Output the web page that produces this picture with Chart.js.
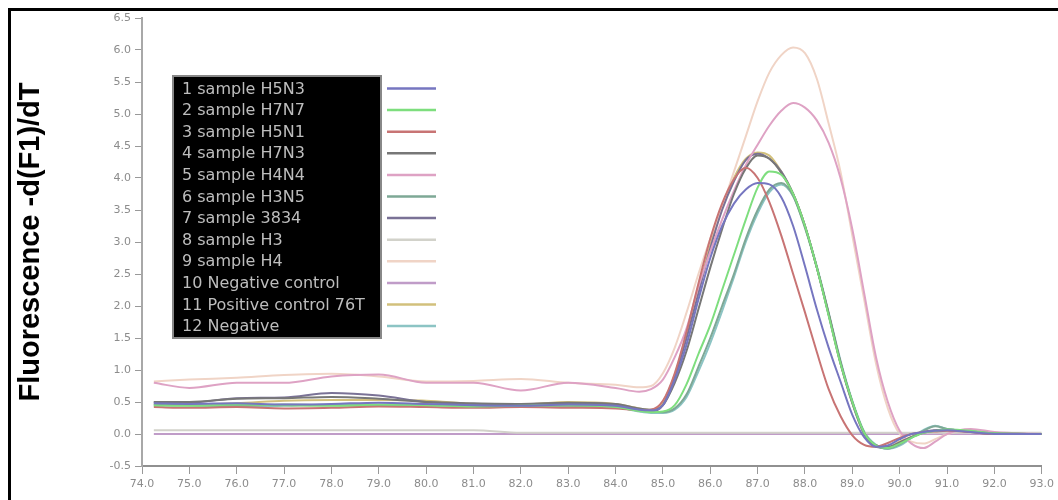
<!DOCTYPE html>
<html>
<head>
<meta charset="utf-8">
<script src="https://cdn.jsdelivr.net/npm/chart.js@4"></script>
<style>
  html, body { margin: 0; padding: 0; background: #fff; }
</style>
</head>
<body>
<canvas id="meltChart" width="1058" height="500"></canvas>
<script>
// Melting curve data - temperature grid and -d(F1)/dT per sample

var temps = [74.25, 75, 76, 77, 78, 79, 80, 81, 82, 83, 84, 84.5, 84.75,
  85, 85.25, 85.5, 85.75, 86, 86.25, 86.5, 86.75, 87, 87.25, 87.5, 87.75,
  88, 88.25, 88.5, 88.75, 89, 89.25, 89.5, 89.75, 90, 90.25, 90.5, 90.75,
  91, 91.5, 92, 93];

var labels = ['1 sample H5N3', '2 sample H7N7', '3 sample H5N1', '4 sample H7N3',
  '5 sample H4N4', '6 sample H3N5', '7 sample 3834', '8 sample H3', '9 sample H4',
  '10 Negative control', '11 Positive control 76T', '12 Negative'];

var colors = ['#7676c0', '#7ede7e', '#c87474', '#777777', '#dea2c4', '#7ea896',
  '#7a7296', '#d2d2ca', '#f0d4c6', '#c09cc8', '#d2c07c', '#8cc4c4'];

var h5n3 = [0.48, 0.47, 0.48, 0.46, 0.47, 0.49, 0.47, 0.45, 0.44, 0.46, 0.44, 0.38, 0.37,
  0.45, 0.85, 1.4, 2.1, 2.75, 3.25, 3.6, 3.82, 3.92, 3.9, 3.7, 3.25,
  2.62, 1.95, 1.35, 0.82, 0.3, -0.05, -0.2, -0.18, -0.08, 0.0, 0.03, 0.05,
  0.06, 0.03, 0.0, 0.0];
var h7n7 = [0.45, 0.44, 0.46, 0.45, 0.44, 0.46, 0.45, 0.43, 0.44, 0.45, 0.42, 0.36, 0.34,
  0.35, 0.45, 0.78, 1.25, 1.7, 2.25, 2.8, 3.35, 3.85, 4.1, 4.05, 3.75,
  3.25, 2.6, 1.85, 1.1, 0.5, 0.02, -0.18, -0.22, -0.15, -0.06, 0.02, 0.05,
  0.07, 0.05, 0.01, 0.0];
var h5n1 = [0.42, 0.41, 0.42, 0.40, 0.41, 0.43, 0.42, 0.41, 0.42, 0.41, 0.40, 0.37, 0.38,
  0.52, 0.95, 1.6, 2.35, 3.05, 3.6, 3.98, 4.16, 4.0, 3.62, 3.1, 2.5,
  1.9, 1.28, 0.7, 0.28, -0.02, -0.17, -0.2, -0.14, -0.06, 0.0, 0.03, 0.04,
  0.05, 0.03, 0.0, 0.0];
var h7n3 = [0.5, 0.5, 0.55, 0.56, 0.58, 0.55, 0.5, 0.48, 0.47, 0.49, 0.47, 0.4, 0.38,
  0.45, 0.8, 1.3, 1.95, 2.6, 3.2, 3.75, 4.15, 4.35, 4.3, 4.08, 3.75,
  3.25, 2.6, 1.88, 1.12, 0.5, 0.02, -0.18, -0.2, -0.13, -0.05, 0.02, 0.05,
  0.06, 0.04, 0.01, 0.0];
var h4n4 = [0.8, 0.72, 0.8, 0.8, 0.9, 0.93, 0.8, 0.8, 0.68, 0.8, 0.72, 0.66, 0.7,
  0.85, 1.2, 1.65, 2.3, 2.85, 3.35, 3.8, 4.2, 4.52, 4.82, 5.05, 5.17,
  5.1, 4.9, 4.55, 4.0, 3.2, 2.2, 1.2, 0.5, 0.05, -0.15, -0.22, -0.12,
  0.0, 0.08, 0.03, 0.0];
var h3n5 = [0.46, 0.45, 0.44, 0.46, 0.45, 0.44, 0.46, 0.44, 0.45, 0.44, 0.43, 0.37, 0.35,
  0.34, 0.4, 0.62, 1.05, 1.5, 2.0, 2.5, 3.05, 3.5, 3.82, 3.92, 3.72,
  3.22, 2.6, 1.88, 1.12, 0.5, 0.02, -0.18, -0.23, -0.16, -0.05, 0.05, 0.12,
  0.08, 0.04, 0.01, 0.0];
var s3834 = [0.5, 0.49, 0.56, 0.57, 0.64, 0.6, 0.5, 0.47, 0.46, 0.48, 0.46, 0.38, 0.36,
  0.45, 0.9, 1.5, 2.2, 2.9, 3.5, 3.95, 4.28, 4.38, 4.3, 4.1, 3.75,
  3.25, 2.6, 1.86, 1.1, 0.48, 0.0, -0.2, -0.22, -0.14, -0.05, 0.03, 0.06,
  0.07, 0.03, 0.0, 0.0];
var h3 = [0.06, 0.06, 0.06, 0.06, 0.06, 0.06, 0.06, 0.06, 0.02, 0.02, 0.02, 0.02, 0.02,
  0.02, 0.02, 0.02, 0.02, 0.02, 0.02, 0.02, 0.02, 0.02, 0.02, 0.02, 0.02,
  0.02, 0.02, 0.02, 0.02, 0.02, 0.02, 0.02, 0.02, 0.02, 0.02, 0.02, 0.02,
  0.02, 0.02, 0.02, 0.02];
var h4 = [0.82, 0.85, 0.88, 0.92, 0.94, 0.9, 0.82, 0.83, 0.86, 0.8, 0.77, 0.73, 0.75,
  0.95, 1.35, 1.9, 2.5, 3.05, 3.55, 4.1, 4.65, 5.2, 5.65, 5.92, 6.04,
  5.95, 5.55, 4.85, 4.1, 3.1, 2.1, 1.1, 0.4, 0.0, -0.12, -0.15, -0.08,
  0.0, 0.05, 0.02, 0.0];
var negControl = [0, 0, 0, 0, 0, 0, 0, 0, 0, 0, 0, 0, 0,
  0, 0, 0, 0, 0, 0, 0, 0, 0, 0, 0, 0,
  0, 0, 0, 0, 0, 0, 0, 0, 0, 0, 0, 0,
  0, 0, 0, 0];
var posControl = [0.47, 0.46, 0.48, 0.52, 0.53, 0.53, 0.52, 0.47, 0.46, 0.5, 0.47, 0.4, 0.38,
  0.5, 0.92, 1.55, 2.25, 2.95, 3.55, 4.0, 4.3, 4.4, 4.35, 4.1, 3.75,
  3.25, 2.6, 1.87, 1.1, 0.48, 0.0, -0.18, -0.2, -0.12, -0.04, 0.03, 0.05,
  0.06, 0.03, 0.0, 0.0];
var negative = [0.44, 0.45, 0.43, 0.44, 0.46, 0.45, 0.44, 0.45, 0.43, 0.44, 0.42, 0.35, 0.33,
  0.33, 0.38, 0.58, 0.98, 1.42, 1.92, 2.45, 3.0, 3.45, 3.78, 3.9, 3.72,
  3.24, 2.62, 1.9, 1.15, 0.52, 0.04, -0.17, -0.23, -0.18, -0.06, 0.06, 0.13,
  0.08, 0.04, 0.01, 0.0];

var series = [h5n3, h7n7, h5n1, h7n3, h4n4, h3n5, s3834, h3, h4, negControl, posControl, negative];

var datasets = series.map(function(vals, i) {
  return {
    label: labels[i],
    data: vals.map(function(v, j) { return {x: temps[j], y: v}; }),
    borderColor: colors[i],
    backgroundColor: colors[i],
    borderWidth: 2,
    pointRadius: 0,
    fill: false,
    cubicInterpolationMode: 'monotone'
  };
});

// black frame + black legend box, drawn by hand like the original software
var meltLegend = {
  id: 'meltLegend',
  beforeDraw: function(chart) {
    var c = chart.ctx;
    c.save();
    c.fillStyle = '#000';
    c.fillRect(8, 8, 1050, 3);
    c.fillRect(8, 8, 3, 492);
    c.restore();
  },
  afterDraw: function(chart) {
    var c = chart.ctx;
    c.save();
    c.fillStyle = '#000';
    c.fillRect(173, 76, 208, 262);
    c.strokeStyle = '#888';
    c.lineWidth = 2;
    c.strokeRect(173, 76, 208, 262);
    c.font = '16px "DejaVu Sans"';
    c.fillStyle = '#bdbdbd';
    c.textBaseline = 'middle';
    for (var i = 0; i < labels.length; i++) {
      var y = 88.5 + i * 21.6;
      c.fillText(labels[i], 182, y + 1);
      c.strokeStyle = colors[i];
      c.lineWidth = 2.5;
      c.beginPath();
      c.moveTo(387, y);
      c.lineTo(436, y);
      c.stroke();
    }
    c.restore();
  }
};

var ctx = document.getElementById('meltChart');

var meltChart = new Chart(ctx, {
  type: 'line',
  data: { datasets: datasets },
  plugins: [meltLegend],
  options: {
    responsive: false,
    animation: false,
    layout: { padding: { top: 18, right: 13, left: 0, bottom: 0 } },
    plugins: {
      legend: { display: false },
      tooltip: { enabled: false }
    },
    scales: {
      x: {
        type: 'linear',
        min: 74,
        max: 93,
        afterFit: function(s) { s.height = 34; },
        border: { display: true, color: '#909090', width: 2 },
        grid: { drawOnChartArea: false, color: '#999', tickLength: 8 },
        ticks: {
          stepSize: 1,
          autoSkip: false,
          maxRotation: 0,
          padding: 4,
          color: '#8c8c8c',
          font: { family: 'DejaVu Sans', size: 11 },
          callback: function(v) { return v.toFixed(1); }
        }
      },
      y: {
        min: -0.5,
        max: 6.5,
        afterFit: function(s) { s.width = 142; },
        border: { display: true, color: '#a8a8a8', width: 2 },
        grid: { drawOnChartArea: false, color: '#999', tickLength: 7 },
        ticks: {
          stepSize: 0.5,
          padding: 4,
          color: '#8c8c8c',
          font: { family: 'DejaVu Sans', size: 11 },
          callback: function(v) { return v.toFixed(1); }
        },
        title: {
          display: true,
          text: 'Fluorescence -d(F1)/dT',
          color: '#000',
          padding: { top: 14, bottom: 0 },
          font: { family: 'Liberation Sans', size: 29, weight: 'bold' }
        }
      }
    }
  }
});
</script>
</body>
</html>
